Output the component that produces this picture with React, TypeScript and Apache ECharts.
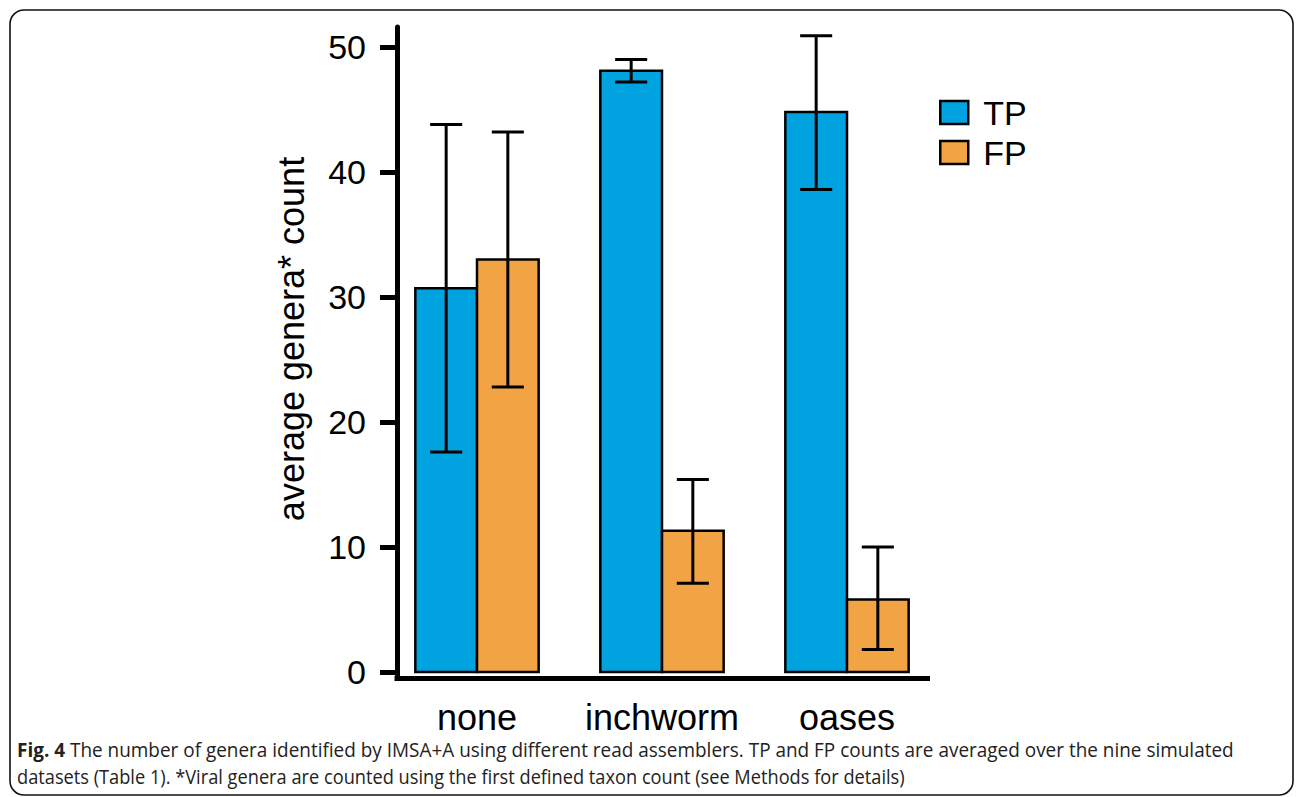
import React, { useEffect, useRef } from 'react';
import * as echarts from 'echarts';

const categories = ['none', 'inchworm', 'oases'];
const seriesNames = ['TP', 'FP'];
const tpMeans = [30.7, 48.1, 44.8];
const tpLow = [17.6, 47.2, 38.6];
const tpHigh = [43.8, 49.0, 50.9];
const fpMeans = [33.0, 11.3, 5.8];
const fpLow = [22.8, 7.1, 1.8];
const fpHigh = [43.2, 15.4, 10.0];
const yTicks = [0, 10, 20, 30, 40, 50];
const categoryIndices = [0, 1, 2];
const yAxisTitle = 'average genera* count';
const captionBold = 'Fig. 4';
const captionLine1 = ' The number of genera identified by IMSA+A using different read assemblers. TP and FP counts are averaged over the nine simulated';
const captionLine2 = 'datasets (Table 1). *Viral genera are counted using the first defined taxon count (see Methods for details)';

const BLUE = '#00a3df';
const ORANGE = '#f2a444';
const FONT = '"Liberation Sans", Arial, sans-serif';
const CAP_FONT = '"Open Sans", sans-serif';

function measure(text: string, font: string): number {
  const c = document.createElement('canvas').getContext('2d');
  if (!c) return text.length * 9;
  c.font = font;
  return c.measureText(text).width;
}

const barRender = (side: number) => (params: any, api: any) => {
  const idx = api.value(0);
  const val = api.value(1);
  const base = api.coord([idx, 0]);
  const top = api.coord([idx, val]);
  const w = api.size([1, 0])[0] / 3;
  const x = side < 0 ? base[0] - w : base[0];
  return {
    type: 'rect',
    shape: { x, y: top[1], width: w, height: base[1] - top[1] },
    style: { fill: api.visual('color'), stroke: '#000', lineWidth: 2.5 },
  };
};

const errRender = (side: number) => (params: any, api: any) => {
  const idx = api.value(0);
  const lo = api.coord([idx, api.value(1)]);
  const hi = api.coord([idx, api.value(2)]);
  const w = api.size([1, 0])[0] / 3;
  const cx = lo[0] + (side * w) / 2;
  const cap = w * 0.26;
  const st = { stroke: '#000', lineWidth: 3 };
  return {
    type: 'group',
    children: [
      { type: 'line', shape: { x1: cx, y1: hi[1], x2: cx, y2: lo[1] }, style: st },
      { type: 'line', shape: { x1: cx - cap, y1: hi[1], x2: cx + cap, y2: hi[1] }, style: st },
      { type: 'line', shape: { x1: cx - cap, y1: lo[1], x2: cx + cap, y2: lo[1] }, style: st },
    ],
  };
};

export default function App() {
  const ref = useRef<HTMLDivElement>(null);
  useEffect(() => {
    if (!ref.current) return;
    const chart = echarts.init(ref.current, undefined, { renderer: 'svg' });

    const capSize = 20;
    const boldW = measure(captionBold, `bold ${capSize}px "Open Sans"`);
    const l1W = measure(captionLine1, `${capSize}px "Open Sans"`);
    const l2W = measure(captionLine2, `${capSize}px "Open Sans"`);
    const capScale1 = 1218 / (boldW + l1W);
    const capScale2 = 888 / l2W;

    const tpBars = categoryIndices.map((i) => [i, tpMeans[i]]);
    const fpBars = categoryIndices.map((i) => [i, fpMeans[i]]);
    const tpErr = categoryIndices.map((i) => [i, tpLow[i], tpHigh[i]]);
    const fpErr = categoryIndices.map((i) => [i, fpLow[i], fpHigh[i]]);

    const option: any = {
      animation: false,
      backgroundColor: '#fff',
      textStyle: { fontFamily: FONT },
      grid: { left: 397, top: 27, width: 530.5, height: 651, containLabel: false, outerBoundsMode: 'none' },
      legend: {
        data: seriesNames,
        orient: 'vertical',
        left: 939,
        top: 92.5,
        padding: 0,
        itemGap: 0,
        itemWidth: 28,
        itemHeight: 23,
        icon: 'rect',
        itemStyle: { borderColor: '#000', borderWidth: 2.5 },
        textStyle: { fontSize: 34, color: '#000', fontFamily: FONT, lineHeight: 40, padding: [0, 0, 0, 10] },
        selectedMode: false,
      },
      xAxis: {
        type: 'value',
        min: -80 / 185,
        max: 450.5 / 185,
        splitLine: { show: false },
        axisTick: { show: false },
        axisLine: { show: true, onZero: false, lineStyle: { color: '#000', width: 5, cap: 'square' } },
        axisLabel: {
          customValues: categoryIndices,
          formatter: (v: number) => categories[Math.round(v)] ?? '',
          fontSize: 36,
          color: '#000',
          margin: 21,
          fontFamily: FONT,
        },
      },
      yAxis: {
        type: 'value',
        min: -0.48,
        max: 51.6,
        splitLine: { show: false },
        axisLine: { show: true, onZero: false, lineStyle: { color: '#000', width: 5 } },
        axisTick: { show: true, customValues: yTicks, length: 17, lineStyle: { color: '#000', width: 5 } },
        axisLabel: { customValues: yTicks, fontSize: 34, color: '#000', margin: 31, fontFamily: FONT },
      },
      series: [
        { name: 'TP', type: 'custom', renderItem: barRender(-1), data: tpBars, itemStyle: { color: BLUE }, encode: { x: 0, y: 1 }, clip: false, z: 2 },
        { name: 'FP', type: 'custom', renderItem: barRender(1), data: fpBars, itemStyle: { color: ORANGE }, encode: { x: 0, y: 1 }, clip: false, z: 2 },
        { name: 'TP error', type: 'custom', renderItem: errRender(-1), data: tpErr, encode: { x: 0, y: [1, 2] }, clip: false, z: 3 },
        { name: 'FP error', type: 'custom', renderItem: errRender(1), data: fpErr, encode: { x: 0, y: [1, 2] }, clip: false, z: 3 },
      ],
      graphic: [
        {
          type: 'rect',
          shape: { x: 10, y: 10, width: 1283, height: 785, r: 14 },
          style: { fill: 'none', stroke: '#111', lineWidth: 1.6 },
          z: 0,
        },
        {
          type: 'text',
          x: 291,
          y: 339,
          rotation: Math.PI / 2,
          style: { text: yAxisTitle, fontSize: 36, fontFamily: FONT, fill: '#000', align: 'center', verticalAlign: 'middle' },
        },
        {
          type: 'text',
          x: 17,
          y: 749,
          scaleX: capScale1,
          style: {
            text: '{b|' + captionBold + '}' + captionLine1,
            fontSize: capSize,
            fontFamily: CAP_FONT,
            fill: '#222',
            verticalAlign: 'middle',
            rich: { b: { fontWeight: 'bold', fontSize: capSize, fontFamily: CAP_FONT, fill: '#222' } },
          },
        },
        {
          type: 'text',
          x: 17,
          y: 777,
          scaleX: capScale2,
          style: { text: captionLine2, fontSize: capSize, fontFamily: CAP_FONT, fill: '#222', verticalAlign: 'middle' },
        },
      ],
    };
    chart.setOption(option);
    return () => chart.dispose();
  }, []);
  return <div ref={ref} style={{ position: 'fixed', left: 0, top: 0, width: 1296, height: 797, background: '#fff' }} />;
}
